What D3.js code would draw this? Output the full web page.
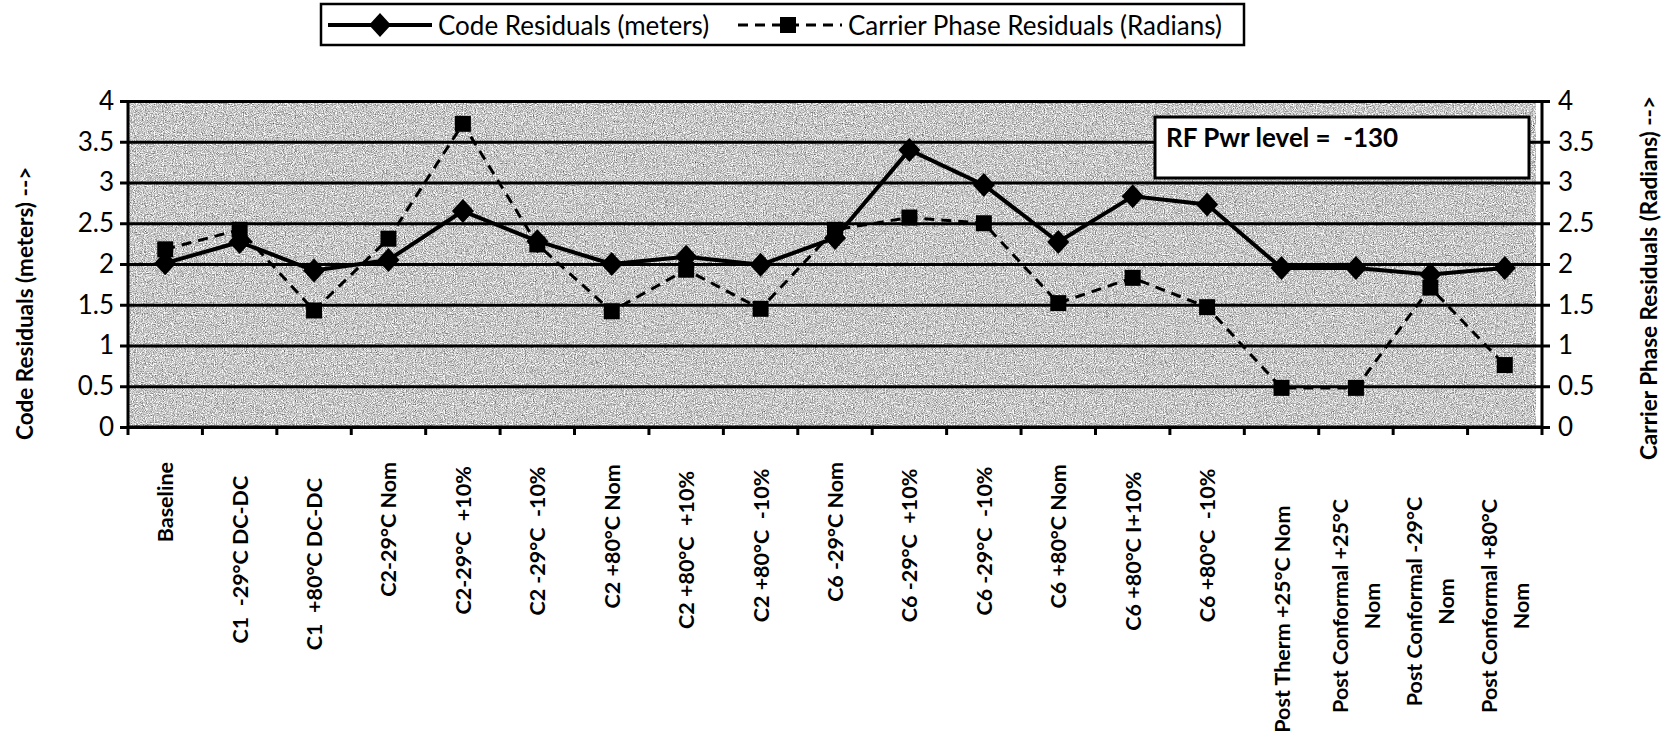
<!DOCTYPE html>
<html>
<head>
<meta charset="utf-8">
<script src="https://cdn.jsdelivr.net/npm/d3@7"></script>
<style>
  html, body { margin: 0; padding: 0; background: #fff; }
  svg { display: block; }
  text { font-family: Lato, "DejaVu Sans", sans-serif; fill: #000; }
</style>
</head>
<body>
<svg id="chart" width="1669" height="751"></svg>
<script>
// ---- data ----
const categories = [
  "Baseline",
  "C1  -29°C DC-DC",
  "C1  +80°C DC-DC",
  "C2-29°C Nom",
  "C2-29°C  +10%",
  "C2 -29°C  -10%",
  "C2 +80°C Nom",
  "C2 +80°C  +10%",
  "C2 +80°C  -10%",
  "C6 -29°C Nom",
  "C6 -29°C  +10%",
  "C6 -29°C  -10%",
  "C6 +80°C Nom",
  "C6 +80°C I+10%",
  "C6 +80°C  -10%",
  "Post Therm +25°C Nom",
  "Post Conformal +25°C\nNom",
  "Post Conformal -29°C\nNom",
  "Post Conformal +80°C\nNom"
];
const codeResiduals    = [2.01, 2.27, 1.92, 2.05, 2.65, 2.28, 2.00, 2.09, 1.99, 2.32, 3.40, 2.97, 2.27, 2.83, 2.73, 1.95, 1.95, 1.87, 1.95];
const carrierResiduals = [2.18, 2.42, 1.43, 2.31, 3.72, 2.24, 1.42, 1.93, 1.45, 2.42, 2.57, 2.50, 1.52, 1.83, 1.47, 0.48, 0.48, 1.71, 0.76];
const yTicks      = [0, 0.5, 1, 1.5, 2, 2.5, 3, 3.5, 4];
const yTickLabels = ["0", "0.5", "1", "1.5", "2", "2.5", "3", "3.5", "4"];
const seriesNames = ["Code Residuals (meters)", "Carrier Phase Residuals (Radians)"];
const leftTitle   = "Code Residuals (meters) -->";
const rightTitle  = "Carrier Phase Residuals (Radians) -->";
const noteText    = "RF Pwr level =  -130";

// ---- layout ----
const W = 1669, H = 751;
const plot = { left: 128, right: 1542, top: 101, bottom: 427 };

const svg = d3.select("#chart").attr("viewBox", `0 0 ${W} ${H}`);
svg.append("rect").attr("width", W).attr("height", H).attr("fill", "#fff");

const x = d3.scaleBand().domain(d3.range(categories.length)).range([plot.left, plot.right]);
const cx = i => x(i) + x.bandwidth() / 2;
const yL = d3.scaleLinear().domain([0, 4]).range([plot.bottom, plot.top]);
const yR = d3.scaleLinear().domain([0, 4]).range([plot.bottom, plot.top]);

// grainy grey plot background
const defs = svg.append("defs");
const grain = defs.append("filter").attr("id", "grain")
  .attr("x", 0).attr("y", 0).attr("width", 1).attr("height", 1)
  .attr("color-interpolation-filters", "sRGB");
grain.append("feTurbulence").attr("type", "fractalNoise")
  .attr("baseFrequency", 0.9).attr("numOctaves", 2).attr("seed", 11).attr("result", "noise");
grain.append("feColorMatrix").attr("in", "noise").attr("type", "matrix")
  .attr("values", "0.6 0.6 0.6 0 -0.12  0.6 0.6 0.6 0 -0.12  0.6 0.6 0.6 0 -0.12  0 0 0 0 1")
  .attr("result", "grey");
grain.append("feComposite").attr("in", "grey").attr("in2", "SourceGraphic").attr("operator", "in");

svg.append("rect")
  .attr("x", plot.left).attr("y", plot.top)
  .attr("width", plot.right - plot.left - 6).attr("height", plot.bottom - plot.top)
  .attr("fill", "#c6c6c6").attr("filter", "url(#grain)");

// horizontal gridlines
svg.append("g")
  .attr("transform", `translate(${plot.left},0)`)
  .call(d3.axisLeft(yL).tickValues(yTicks).tickSize(-(plot.right - plot.left)).tickFormat(""))
  .call(g => g.select(".domain").remove())
  .call(g => g.selectAll("line").attr("stroke", "#000").attr("stroke-width", 3));

// left axis
svg.append("g")
  .attr("transform", `translate(${plot.left},0)`)
  .call(d3.axisLeft(yL).tickValues(yTicks).tickSize(8).tickPadding(6)
    .tickFormat((d, i) => yTickLabels[i]))
  .call(g => g.select(".domain").attr("stroke", "#000").attr("stroke-width", 3)
    .attr("d", `M0,${plot.top}V${plot.bottom}`))
  .call(g => g.selectAll("line").attr("stroke", "#000").attr("stroke-width", 3))
  .call(g => g.selectAll("text").attr("font-size", 26).attr("font-family", "Lato, sans-serif"));

// right axis
svg.append("g")
  .attr("transform", `translate(${plot.right},0)`)
  .call(d3.axisRight(yR).tickValues(yTicks).tickSize(8).tickPadding(8)
    .tickFormat((d, i) => yTickLabels[i]))
  .call(g => g.select(".domain").attr("stroke", "#000").attr("stroke-width", 3)
    .attr("d", `M0,${plot.top}V${plot.bottom}`))
  .call(g => g.selectAll("line").attr("stroke", "#000").attr("stroke-width", 3))
  .call(g => g.selectAll("text").attr("font-size", 26).attr("font-family", "Lato, sans-serif"));

// category axis: baseline with ticks on band boundaries
const bounds = categories.map((c, i) => x(i)).concat([plot.right]);
const xAxis = svg.append("g");
xAxis.append("line")
  .attr("x1", plot.left).attr("x2", plot.right)
  .attr("y1", plot.bottom).attr("y2", plot.bottom)
  .attr("stroke", "#000").attr("stroke-width", 3);
xAxis.selectAll("line.tick").data(bounds).join("line").attr("class", "tick")
  .attr("x1", d => d).attr("x2", d => d)
  .attr("y1", plot.bottom).attr("y2", plot.bottom + 8)
  .attr("stroke", "#000").attr("stroke-width", 3);

// rotated category labels; longer labels sit a little further from the axis
const lineGap = 32;
categories.forEach((label, i) => {
  const lines = label.split("\n");
  const g = xAxis.append("g");
  const texts = lines.map(ln =>
    g.append("text")
      .attr("font-size", 21.5).attr("font-weight", "bold")
      .attr("text-anchor", "middle").attr("dominant-baseline", "central")
      .style("white-space", "pre")
      .text(ln));
  const len = d3.max(texts, t => t.node().getComputedTextLength());
  const top = 462 + Math.max(0, len - 140) * 0.5;
  const mid = Math.min(top + len / 2, H - 6 - len / 2);
  texts.forEach((t, j) => {
    const px = cx(i) + (j - (lines.length - 1) / 2) * lineGap;
    t.attr("transform", `translate(${px},${mid}) rotate(-90)`);
  });
});

// axis titles
svg.append("text")
  .attr("transform", `translate(24,440) rotate(-90)`)
  .attr("text-anchor", "start").attr("dominant-baseline", "central")
  .attr("font-size", 22.5).attr("font-weight", "bold")
  .text(leftTitle);
svg.append("text")
  .attr("transform", `translate(1648,278) rotate(-90)`)
  .attr("text-anchor", "middle").attr("dominant-baseline", "central")
  .attr("font-size", 22.5).attr("font-weight", "bold")
  .text(rightTitle);

// series
const diamond = "M0,-12L11,0L0,12L-11,0Z";
const lineGen = scale => d3.line().x((d, i) => cx(i)).y(d => scale(d));

svg.append("path").datum(codeResiduals)
  .attr("d", lineGen(yL)).attr("fill", "none")
  .attr("stroke", "#000").attr("stroke-width", 4).attr("stroke-linejoin", "round");
svg.append("g").selectAll("path").data(codeResiduals).join("path")
  .attr("d", diamond)
  .attr("transform", (d, i) => `translate(${cx(i)},${yL(d)})`)
  .attr("fill", "#000");

svg.append("path").datum(carrierResiduals)
  .attr("d", lineGen(yR)).attr("fill", "none")
  .attr("stroke", "#000").attr("stroke-width", 3).attr("stroke-dasharray", "10,7");
svg.append("g").selectAll("path").data(carrierResiduals).join("path")
  .attr("d", d3.symbol(d3.symbolSquare, 256))
  .attr("transform", (d, i) => `translate(${cx(i)},${yR(d)})`)
  .attr("fill", "#000");

// note box
svg.append("rect")
  .attr("x", 1155).attr("y", 117).attr("width", 374).attr("height", 61)
  .attr("fill", "#fff").attr("stroke", "#000").attr("stroke-width", 3);
svg.append("text")
  .attr("x", 1166).attr("y", 147)
  .attr("font-size", 26).attr("font-weight", "bold")
  .style("white-space", "pre")
  .text(noteText);

// legend
const legend = svg.append("g");
legend.append("rect")
  .attr("x", 321).attr("y", 4).attr("width", 923).attr("height", 41)
  .attr("fill", "#fff").attr("stroke", "#000").attr("stroke-width", 2.5);
const legendItems = [
  { name: seriesNames[0], x0: 328, x1: 432, mark: 380, dash: null, width: 4, shape: diamond, tx: 438 },
  { name: seriesNames[1], x0: 738, x1: 842, mark: 788, dash: "10,7", width: 3,
    shape: d3.symbol(d3.symbolSquare, 256)(), tx: 848 }
];
legendItems.forEach(it => {
  legend.append("line")
    .attr("x1", it.x0).attr("x2", it.x1).attr("y1", 25).attr("y2", 25)
    .attr("stroke", "#000").attr("stroke-width", it.width)
    .attr("stroke-dasharray", it.dash);
  legend.append("path").attr("d", it.shape)
    .attr("transform", `translate(${it.mark},25)`).attr("fill", "#000");
  legend.append("text")
    .attr("x", it.tx).attr("y", 25).attr("dominant-baseline", "central")
    .attr("font-size", 26)
    .text(it.name);
});
</script>
</body>
</html>
